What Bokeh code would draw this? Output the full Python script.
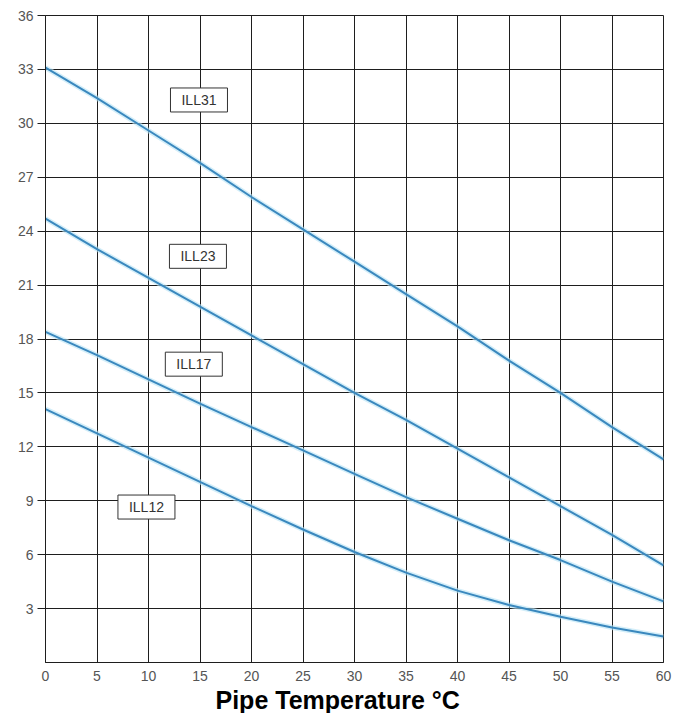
from bokeh.plotting import figure
from bokeh.models import Range1d, FixedTicker, ColumnDataSource, Title
from bokeh.core.properties import value
from bokeh.embed import file_html
from bokeh.resources import INLINE

# ---- data ----
temps = [0, 5, 10, 15, 20, 25, 30, 35, 40, 45, 50, 55, 60]
ill31 = [33.1, 31.4, 29.6, 27.8, 25.9, 24.1, 22.3, 20.5, 18.7, 16.8, 15.0, 13.1, 11.3]
ill23 = [24.7, 23.0, 21.4, 19.8, 18.2, 16.6, 15.0, 13.5, 11.9, 10.3, 8.7, 7.1, 5.4]
ill17 = [18.4, 17.1, 15.75, 14.4, 13.1, 11.8, 10.5, 9.2, 8.0, 6.8, 5.7, 4.5, 3.4]
ill12 = [14.1, 12.75, 11.4, 10.05, 8.7, 7.4, 6.15, 5.0, 4.0, 3.2, 2.55, 1.95, 1.45]

label_names = ["ILL31", "ILL23", "ILL17", "ILL12"]
label_x = [14.9, 14.8, 14.4, 9.8]
label_y = [31.3, 22.6, 16.6, 8.65]

x_ticks = [0, 5, 10, 15, 20, 25, 30, 35, 40, 45, 50, 55, 60]
y_ticks = [3, 6, 9, 12, 15, 18, 21, 24, 27, 30, 33, 36]

FONT = "Liberation Sans"
GRID = "#1e1e1e"

p = figure(width=675, height=713, output_backend="svg", toolbar_location=None,
           x_range=Range1d(0, 60), y_range=Range1d(0, 36),
           min_border_left=45, min_border_right=12, min_border_top=15, min_border_bottom=20)
p.background_fill_color = "white"
p.border_fill_color = "white"
p.outline_line_color = GRID
p.outline_line_width = 1

p.xaxis.ticker = FixedTicker(ticks=x_ticks)
p.yaxis.ticker = FixedTicker(ticks=y_ticks)
p.xgrid.ticker = FixedTicker(ticks=x_ticks)
p.ygrid.ticker = FixedTicker(ticks=y_ticks)
for g in (p.xgrid, p.ygrid):
    g.grid_line_color = GRID
    g.grid_line_width = 1
    g.grid_line_alpha = 1

for ax in (p.xaxis, p.yaxis):
    ax.axis_line_color = GRID
    ax.major_tick_line_color = GRID
    ax.minor_tick_line_color = None
    ax.major_tick_in = 0
    ax.major_label_text_font = FONT
    ax.major_label_text_font_size = "14px"
    ax.major_label_text_color = "#555555"

p.xaxis.major_tick_out = 0
p.xaxis.major_label_standoff = 8
p.yaxis.major_tick_out = 8
p.yaxis.major_label_standoff = 4

xt = Title(text="Pipe Temperature °C", align="left", offset=170,
           text_font=FONT, text_font_style="bold", text_font_size="25px",
           text_color="black", standoff=0)
p.add_layout(xt, "below")

for series in (ill31, ill23, ill17, ill12):
    p.line(temps, series, line_color="#b5e3f5", line_width=5, line_alpha=0.6)
    p.line(temps, series, line_color="#3a88be", line_width=2)

src = ColumnDataSource(dict(x=label_x, y=label_y, t=label_names))
p.rect(x="x", y="y", width=57, height=24, width_units="screen", height_units="screen",
       source=src, fill_color="white", line_color="#333333", line_width=1)
p.text(x="x", y="y", text="t", source=src, text_align="center", text_baseline="middle",
       text_font=value(FONT), text_font_size="14px", text_color="#333333")

open("out.html", "w").write(file_html(p, INLINE))
